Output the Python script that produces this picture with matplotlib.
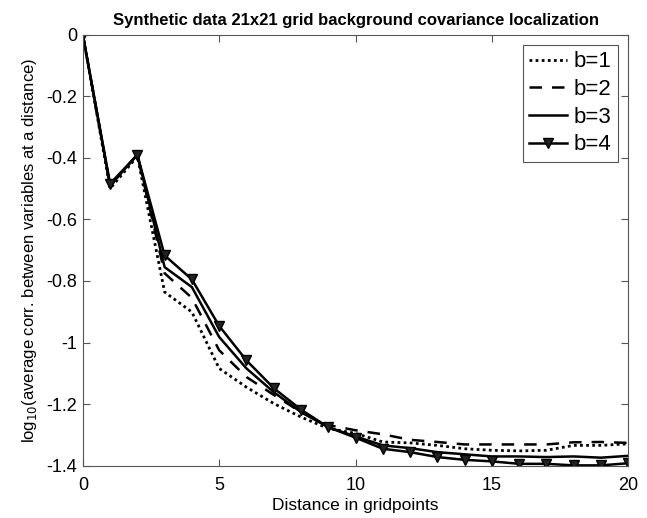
import numpy as np
import matplotlib
matplotlib.use("Agg")
import matplotlib.pyplot as plt

# distance in gridpoints
dist = np.arange(21)

# log10 of average correlation at each distance, one series per b
b1 = [0, -0.50, -0.395, -0.836, -0.901, -1.084, -1.145, -1.198, -1.242, -1.279, -1.295,
      -1.323, -1.326, -1.334, -1.345, -1.350, -1.352, -1.350, -1.334, -1.334, -1.329]
b2 = [0, -0.49, -0.39, -0.775, -0.855, -1.025, -1.112, -1.170, -1.226, -1.268, -1.285,
      -1.298, -1.316, -1.323, -1.331, -1.331, -1.331, -1.331, -1.324, -1.323, -1.326]
b3 = [0, -0.49, -0.39, -0.755, -0.820, -0.982, -1.084, -1.161, -1.226, -1.275, -1.305,
      -1.334, -1.343, -1.356, -1.363, -1.370, -1.370, -1.372, -1.370, -1.374, -1.368]
b4 = [0, -0.484, -0.39, -0.717, -0.795, -0.946, -1.058, -1.148, -1.218, -1.275, -1.309,
      -1.345, -1.356, -1.372, -1.381, -1.386, -1.394, -1.394, -1.399, -1.399, -1.392]

labels = ['b=1', 'b=2', 'b=3', 'b=4']
xticks = [0, 5, 10, 15, 20]
yticks = [0, -0.2, -0.4, -0.6, -0.8, -1, -1.2, -1.4]
yticklabels = ['0', '-0.2', '-0.4', '-0.6', '-0.8', '-1', '-1.2', '-1.4']

plt.rcParams['font.family'] = ['Liberation Sans', 'DejaVu Sans']

fig = plt.figure(figsize=(6.47, 5.18), dpi=100)
ax = fig.add_axes([0.128, 0.101, 0.843, 0.832])

ax.plot(dist, b1, color='k', lw=2, linestyle=(0, (1, 1.2)), label=labels[0])
ax.plot(dist, b2, color='k', lw=1.8, linestyle=(0, (5, 4)), label=labels[1])
ax.plot(dist, b3, color='k', lw=1.8, linestyle='-', label=labels[2])
ax.plot(dist, b4, color='k', lw=1.8, linestyle='-', marker='v', markersize=7,
        markerfacecolor='#222222', markeredgecolor='k', label=labels[3])

ax.set_xlim(0, 20)
ax.set_ylim(-1.4, 0)
ax.set_xticks(xticks)
ax.set_yticks(yticks)
ax.set_yticklabels(yticklabels)
ax.tick_params(direction='in', top=True, right=True, labelsize=13, length=5, color='#555555')
ax.tick_params(axis='x', pad=8)
ax.tick_params(axis='y', pad=4)
for s in ax.spines.values():
    s.set_color('#555555')
    s.set_linewidth(0.8)

ax.set_title('Synthetic data 21x21 grid background covariance localization',
             fontsize=12, fontweight='bold', pad=7)
ax.set_xlabel('Distance in gridpoints', fontsize=12.5, labelpad=3)
ax.set_ylabel(r'log$_{10}$(average corr. between variables at a distance)', fontsize=12, labelpad=5)

leg = ax.legend(loc='upper right', fontsize=16, handlelength=1.7, handletextpad=0.3,
                borderpad=0.3, labelspacing=0.3, fancybox=False, framealpha=1,
                borderaxespad=0.45)
leg.get_frame().set_edgecolor('#555555')
leg.get_frame().set_linewidth(0.8)

fig.savefig('out.png', dpi=100)
